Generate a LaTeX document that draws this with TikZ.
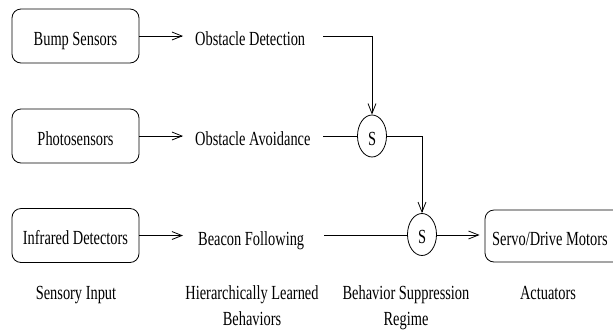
\documentclass[tikz,border=0pt]{standalone}
\usepackage{fontspec}
\setmainfont{Liberation Serif}[FakeStretch=0.72]
\usetikzlibrary{shapes.geometric,arrows.meta}
\begin{document}
\begin{tikzpicture}[x=1pt,y=-1pt,
  every node/.style={font=\fontsize{20}{26}\selectfont},
  sbox/.style={draw,rounded corners=9pt,line width=0.8pt,minimum width=127pt,minimum height=54pt,inner sep=0pt,text height=18pt,text depth=0pt},
  beh/.style={anchor=base west,inner sep=0pt},
  sup/.style={draw,ellipse,line width=0.8pt,minimum width=29pt,minimum height=42pt,inner sep=0pt,text height=18pt,text depth=0pt},
  lab/.style={anchor=base,align=center,inner sep=0pt},
  conn/.style={line width=0.8pt},
  arr/.style={line width=0.8pt,-{Straight Barb[length=10pt,width=8pt,line width=0.8pt]}}
]
\useasboundingbox (0,0) rectangle (613,333);
\clip (0,0) rectangle (613,333);
\node[sbox] (b1) at (75.5,36) {Bump Sensors};
\node[sbox] (b2) at (75.5,136) {Photosensors};
\node[sbox] (b3) at (75.5,235.5) {Infrared Detectors};
\node[sbox,minimum width=140pt,minimum height=52pt] (m) at (555,236) {};
\node[anchor=base west,inner sep=0pt] (mt) at (492,245) {Servo/Drive Motors};

\node[beh] (od) at (195,45) {Obstacle Detection};
\node[beh] (oa) at (195,145) {Obstacle Avoidance};
\node[beh] (bf) at (198,245) {Beacon Following};

\node[sup] (s1) at (372,136) {S};
\node[sup] (s2) at (422,234.5) {S};

\coordinate (c1) at (323,36);
\coordinate (c2) at (323,136);
\coordinate (c3) at (324,235);

\draw[arr,shorten >=12pt] (b1.east) -- (b1.east -| od.west);
\draw[arr,shorten >=12pt] (b2.east) -- (b2.east -| oa.west);
\draw[arr,shorten >=15pt] (b3.east) -- (b3.east -| bf.west);

\draw[arr] (c1) -| (s1.north);
\draw[conn] (c2) -- (s1.west);
\draw[arr] (s1.east) -| (s2.north);
\draw[conn] (c3) -- (s2.west |- c3);
\draw[arr,shorten >=5pt] (s2.east |- c3) -- (m.west |- c3);

\node[lab] (l1) at (76,299) {Sensory Input};
\node[lab] (l2) at (252,325) {Hierarchically Learned\\Behaviors};
\node[lab] (l3) at (406,325) {Behavior Suppression\\Regime};
\node[lab] (l4) at (548,299) {Actuators};
\end{tikzpicture}
\end{document}
